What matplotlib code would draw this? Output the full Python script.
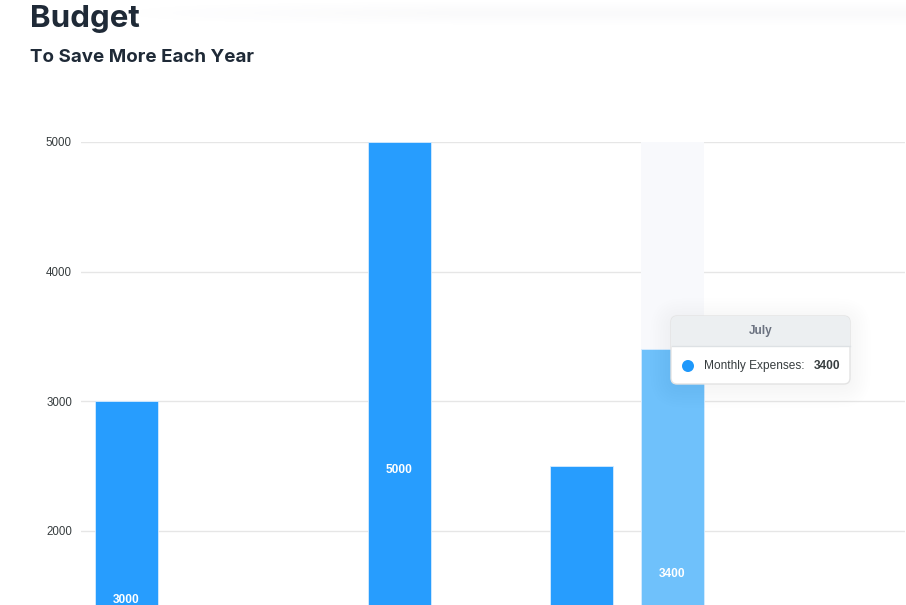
import matplotlib
matplotlib.use("Agg")
import matplotlib.pyplot as plt
from matplotlib.patches import FancyBboxPatch, Circle
import numpy as np

# ---- data ----
categories = ["January", "February", "March", "April", "May", "June", "July", "August", "September"]
expenses = [3000, 1200, 1000, 5000, 1300, 2500, 3400, 1100, 1000]
y_ticks = [2000, 3000, 4000, 5000]
series_name = "Monthly Expenses"
hover_index = 6

W, H = 906, 605
fig = plt.figure(figsize=(W / 100, H / 100), dpi=100)
fig.patch.set_facecolor("white")

# plot axes: x from 81px to 905px, y=5000 at 142px, y=0 at ~790px
left, right = 81, 905
top_px, zero_px = 142, 790.3
cat_px = 91.0
ax = fig.add_axes([left / W, (H - zero_px) / H, (right - left) / W, (zero_px - top_px) / H])
ax.set_xlim(-0.5, -0.5 + (right - left) / cat_px)
ax.set_ylim(0, 5000)
for s in ax.spines.values():
    s.set_visible(False)
ax.set_xticks([])
ax.set_yticks(y_ticks)
ax.set_yticklabels([str(v) for v in y_ticks], fontsize=8.3, color="#373d3f",
                   family=["Liberation Sans", "DejaVu Sans"])
ax.tick_params(axis="y", length=0, pad=6.5)
ax.yaxis.grid(True, color="#e6e6e6", linewidth=1)
ax.set_axisbelow(True)

x = np.arange(len(categories))
bw = 63 / cat_px
# hover column highlight
ax.bar(x[hover_index], 5000, width=bw, color="#f8f9fc", zorder=1)
colors = ["#279dfe"] * len(categories)
colors[hover_index] = "#6fc1fb"
ax.bar(x, expenses, width=bw, color=colors, edgecolor="#d6ecff", linewidth=0.6, zorder=2)
visible_min = 5000 * (zero_px - H) / (zero_px - top_px)  # value at figure bottom
for xi, v in zip(x, expenses):
    yl = v / 2 - 30
    if yl > visible_min:
        ax.text(xi, yl, str(v), ha="center", va="center", color="white",
                fontsize=8.6, fontweight="bold", family=["Liberation Sans", "DejaVu Sans"], zorder=3)

# overlay in pixel coordinates
ov = fig.add_axes([0, 0, 1, 1], zorder=10)
ov.axis("off")
ov.patch.set_alpha(0)

# faint top shadow band
gx = np.linspace(0, 1, 300)
gy = np.linspace(0, 1, 30)
GX, GY = np.meshgrid(gx, gy)
alpha = np.clip((GX - 0.1) / 0.4, 0, 1) * np.exp(-((GY * 30 - 13) / 8) ** 2) * 0.035
img = np.zeros((30, 300, 4))
img[..., 0] = 0.45; img[..., 1] = 0.5; img[..., 2] = 0.55
img[..., 3] = alpha
ov.imshow(img, extent=[0, W, 30, 0], aspect="auto", zorder=0, interpolation="bilinear")
ov.set_xlim(0, W)
ov.set_ylim(H, 0)

# titles
ov.text(30, 19, "Budget", fontsize=22.5, fontweight="bold", color="#1f2a37",
        family=["Inter", "DejaVu Sans"], va="center", ha="left")
ov.text(30, 58, "To Save More Each Year", fontsize=13.5, fontweight="bold", color="#1f2a37",
        family=["Inter", "DejaVu Sans"], va="center", ha="left")

# tooltip
tx, ty, tw, th = 671, 316, 179, 68
for i in range(10):
    pad = 1 + i * 2.5
    ov.add_patch(FancyBboxPatch((tx - pad + 3, ty - pad + 6), tw + 2 * pad - 6, th + 2 * pad - 6,
                                boxstyle="round,pad=0,rounding_size=%f" % (8 + pad),
                                facecolor="#000000", edgecolor="none", alpha=0.005, zorder=4))
ov.add_patch(FancyBboxPatch((tx, ty), tw, th, boxstyle="round,pad=0,rounding_size=6",
                            facecolor="white", edgecolor="#e3e3e3", linewidth=1, zorder=5))
hdr = FancyBboxPatch((tx, ty), tw, th, boxstyle="round,pad=0,rounding_size=6",
                     facecolor="#eceff1", edgecolor="none", zorder=6)
ov.add_patch(hdr)
clip_rect = plt.Rectangle((tx, ty), tw, 30, transform=ov.transData)
hdr.set_clip_path(clip_rect)
ov.plot([tx + 0.5, tx + tw - 0.5], [ty + 30, ty + 30], color="#dde1e4", linewidth=1, zorder=7)
ov.text(tx + tw / 2, ty + 15, categories[hover_index], ha="center", va="center",
        fontsize=8.5, fontweight="bold", color="#6b7280", family=["Liberation Sans", "DejaVu Sans"], zorder=8)
ov.add_patch(Circle((688, 366), 6, facecolor="#1e98fb", edgecolor="none", zorder=8))
ov.text(704, 366, series_name + ":", ha="left", va="center", fontsize=8.6, color="#373d3f",
        family=["Liberation Sans", "DejaVu Sans"], zorder=8)
ov.text(840, 366, str(expenses[hover_index]), ha="right", va="center", fontsize=8.6,
        fontweight="bold", color="#373d3f", family=["Liberation Sans", "DejaVu Sans"], zorder=8)

fig.savefig("out.png", dpi=100, facecolor="white")
